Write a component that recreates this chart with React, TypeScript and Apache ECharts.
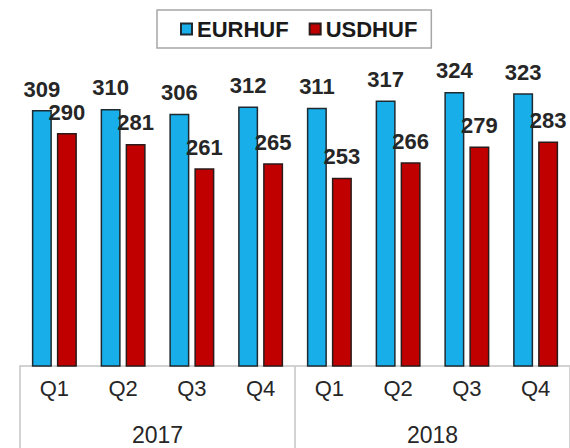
import React, { useEffect, useRef } from "react";
import * as echarts from "echarts";

const quarters = ["Q1", "Q2", "Q3", "Q4", "Q1", "Q2", "Q3", "Q4"];
const years = ["2017", "2018"];
const eurhuf = [309, 310, 306, 312, 311, 317, 324, 323];
const usdhuf = [290, 281, 261, 265, 253, 266, 279, 283];

const FONT = "'Liberation Sans', Arial, sans-serif";

export default function App() {
  const ref = useRef<HTMLDivElement>(null);
  useEffect(() => {
    document.body.style.margin = "0";
    const chart = echarts.init(ref.current!, null, { renderer: "svg" });
    const cats = quarters.map((q, i) => years[Math.floor(i / 4)] + " " + q);
    const labelStyle = {
      show: true,
      position: "top" as const,
      distance: 10,
      fontFamily: FONT,
      fontSize: 22,
      fontWeight: "bold" as const,
      color: "#262626",
    };
    chart.setOption({
      animation: false,
      backgroundColor: "#ffffff",
      textStyle: { fontFamily: FONT },
      legend: {
        left: 157,
        top: 10,
        padding: [8, 14, 8, 23],
        borderColor: "#a6a6a6",
        borderWidth: 1.5,
        itemWidth: 11,
        itemHeight: 11,
        itemGap: 20,
        icon: "rect",
        textStyle: { fontFamily: FONT, fontSize: 22, fontWeight: "bold", color: "#1a1a1a" },
        data: ["EURHUF", "USDHUF"],
      },
      grid: { left: 20, right: -6.5, top: 60.5, bottom: 82, containLabel: false },
      xAxis: [
        {
          type: "category",
          data: cats,
          position: "bottom",
          axisLine: { show: true, lineStyle: { color: "#c4c4c4", width: 1.5 } },
          axisTick: { show: false },
          axisLabel: {
            margin: 11,
            fontFamily: FONT,
            fontSize: 22,
            color: "#262626",
            interval: 0,
            formatter: (v: string) => v.split(" ")[1],
          },
        },
        {
          type: "category",
          data: years,
          position: "bottom",
          offset: 0,
          axisLine: { show: false },
          axisTick: { show: true, length: 82, lineStyle: { color: "#c4c4c4", width: 1.5 } },
          axisLabel: { margin: 57, fontFamily: FONT, fontSize: 23, color: "#262626" },
        },
      ],
      yAxis: { type: "value", min: 97.5, max: 350, show: false, splitLine: { show: false } },
      series: [
        {
          name: "EURHUF",
          type: "bar",
          xAxisIndex: 0,
          data: eurhuf,
          barWidth: 20,
          barGap: "25%",
          itemStyle: { color: "#17AEEA", borderColor: "#1f2a30", borderWidth: 1.5 },
          label: labelStyle,
        },
        {
          name: "USDHUF",
          type: "bar",
          xAxisIndex: 0,
          data: usdhuf,
          barWidth: 20,
          barGap: "25%",
          itemStyle: { color: "#C00000", borderColor: "#2a1a1a", borderWidth: 1.5 },
          label: labelStyle,
        },
      ],
    });
    return () => chart.dispose();
  }, []);
  return <div ref={ref} style={{ width: 570, height: 448, position: "absolute", left: 0, top: 0 }} />;
}
